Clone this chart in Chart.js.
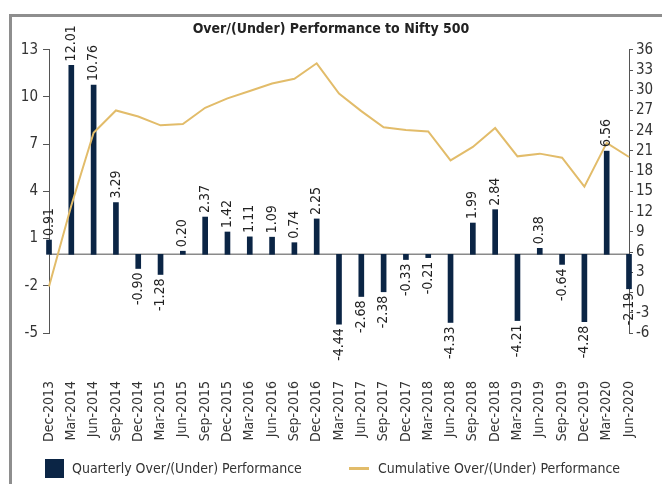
<!DOCTYPE html>
<html>
<head>
<meta charset="utf-8">
<script src="https://cdn.jsdelivr.net/npm/chart.js@4.4.0/dist/chart.umd.min.js"></script>
<style>
  body { margin: 0; background: #fff; }
  #wrap { position: relative; width: 662px; height: 484px; overflow: hidden; }
  #frame { position: absolute; left: 9px; top: 14px; right: -5px; bottom: -5px;
           border-left: 3px solid #8e8e8e; border-top: 3px solid #8e8e8e; }
  canvas { position: absolute; left: 0; top: 0; }
  .leg { position: absolute; top: 458px; font-family: 'DejaVu Sans Condensed', sans-serif;
         font-size: 14px; color: #333; line-height: 20px; white-space: nowrap; }
  .box { position: absolute; left: 45px; top: 459px; width: 19px; height: 19px; background: #0b2545; }
  .ln { position: absolute; left: 349px; top: 467px; width: 20px; height: 3px; background: #e2bc6a; }
</style>
</head>
<body>
<div id="wrap">
  <div id="frame"></div>
  <canvas id="chart" width="662" height="484"></canvas>
  <div class="box"></div><div class="leg" style="left:72px">Quarterly Over/(Under) Performance</div>
  <div class="ln"></div><div class="leg" style="left:378px">Cumulative Over/(Under) Performance</div>
</div>
<script>
// 四半期ラベル
const categories = ['Dec-2013','Mar-2014','Jun-2014','Sep-2014','Dec-2014','Mar-2015','Jun-2015','Sep-2015',
  'Dec-2015','Mar-2016','Jun-2016','Sep-2016','Dec-2016','Mar-2017','Jun-2017','Sep-2017','Dec-2017',
  'Mar-2018','Jun-2018','Sep-2018','Dec-2018','Mar-2019','Jun-2019','Sep-2019','Dec-2019','Mar-2020','Jun-2020'];
// 棒グラフ（左軸）
const quarterly = [0.91, 12.01, 10.76, 3.29, -0.90, -1.28, 0.20, 2.37, 1.42, 1.11, 1.09, 0.74, 2.25,
  -4.44, -2.68, -2.38, -0.33, -0.21, -4.33, 1.99, 2.84, -4.21, 0.38, -0.64, -4.28, 6.56, -2.19];
// 線グラフ（右軸）
const cumulative = [0.9, 12.9, 23.7, 27.0, 26.1, 24.8, 25.0, 27.4, 28.8, 29.9, 31.0, 31.7, 34.0,
  29.5, 26.9, 24.5, 24.1, 23.9, 19.6, 21.6, 24.4, 20.2, 20.6, 20.0, 15.7, 22.2, 20.1];
const leftTicks = [-5, -2, 1, 4, 7, 10, 13];
const rightTicks = [-6, -3, 0, 3, 6, 9, 12, 15, 18, 21, 24, 27, 30, 33, 36];

const FONT = "'DejaVu Sans Condensed', sans-serif";
const TXT = '#333';

// ゼロ線
const zeroLine = {
  id: 'zeroLine',
  beforeDatasetsDraw(chart) {
    const ctx = chart.ctx, a = chart.chartArea;
    const y = chart.scales.y.getPixelForValue(0);
    ctx.save();
    ctx.strokeStyle = '#8a8a8a';
    ctx.lineWidth = 1.5;
    ctx.beginPath();
    ctx.moveTo(a.left, y);
    ctx.lineTo(a.right, y);
    ctx.stroke();
    ctx.restore();
  }
};

// 棒の値ラベル（縦書き）
const barLabels = {
  id: 'barLabels',
  afterDatasetsDraw(chart) {
    const ctx = chart.ctx;
    const meta = chart.getDatasetMeta(0);
    ctx.save();
    ctx.font = '14px ' + FONT;
    ctx.fillStyle = '#222';
    ctx.textBaseline = 'middle';
    meta.data.forEach(function(bar, i) {
      const v = quarterly[i];
      ctx.save();
      ctx.translate(bar.x, v >= 0 ? bar.y - 4 : bar.y + 4);
      ctx.rotate(-Math.PI / 2);
      ctx.textAlign = v >= 0 ? 'left' : 'right';
      ctx.fillText(v.toFixed(2), 0, 0);
      ctx.restore();
    });
    ctx.restore();
  }
};

new Chart(document.getElementById('chart'), {
  data: {
    labels: categories,
    datasets: [{
      type: 'bar',
      label: 'Quarterly Over/(Under) Performance',
      data: quarterly,
      backgroundColor: '#0b2545',
      barThickness: 5,
      yAxisID: 'y',
      order: 2,
      clip: false
    }, {
      type: 'line',
      label: 'Cumulative Over/(Under) Performance',
      data: cumulative,
      borderColor: '#e2bc6a',
      borderWidth: 2,
      pointRadius: 0,
      tension: 0,
      yAxisID: 'y1',
      order: 1
    }]
  },
  options: {
    responsive: false,
    animation: false,
    devicePixelRatio: 1,
    layout: { padding: { left: 0, right: 0, top: 0, bottom: 40 } },
    plugins: {
      legend: { display: false },
      tooltip: { enabled: false },
      title: {
        display: true,
        text: 'Over/(Under) Performance to Nifty 500',
        color: '#222',
        font: { family: FONT, size: 14, weight: 'bold' },
        padding: { top: 21, bottom: 12 }
      }
    },
    scales: {
      x: {
        type: 'category',
        offset: false,
        grid: { display: false },
        border: { display: false },
        ticks: { autoSkip: false, maxRotation: 90, minRotation: 90, padding: 40,
                 color: TXT, font: { family: FONT, size: 14 } },
        afterFit: function(s) { s.height = 111; s.paddingLeft = 0; s.paddingRight = 0; }
      },
      y: {
        position: 'left',
        min: -5, max: 13,
        afterBuildTicks: function(s) { s.ticks = leftTicks.map(v => ({ value: v })); },
        grid: { drawOnChartArea: false, drawTicks: true, tickLength: 6, color: '#555' },
        border: { color: '#555' },
        ticks: { autoSkip: false, padding: 5, color: TXT, font: { family: FONT, size: 15 } },
        afterFit: function(s) { s.width = 49; }
      },
      y1: {
        position: 'right',
        min: -6, max: 36,
        afterBuildTicks: function(s) { s.ticks = rightTicks.map(v => ({ value: v })); },
        grid: { drawOnChartArea: false, drawTicks: true, tickLength: 4, color: '#555' },
        border: { color: '#555' },
        ticks: { autoSkip: false, padding: 3, color: TXT, font: { family: FONT, size: 15 } },
        afterFit: function(s) { s.width = 33; }
      }
    }
  },
  plugins: [zeroLine, barLabels]
});
</script>
</body>
</html>
